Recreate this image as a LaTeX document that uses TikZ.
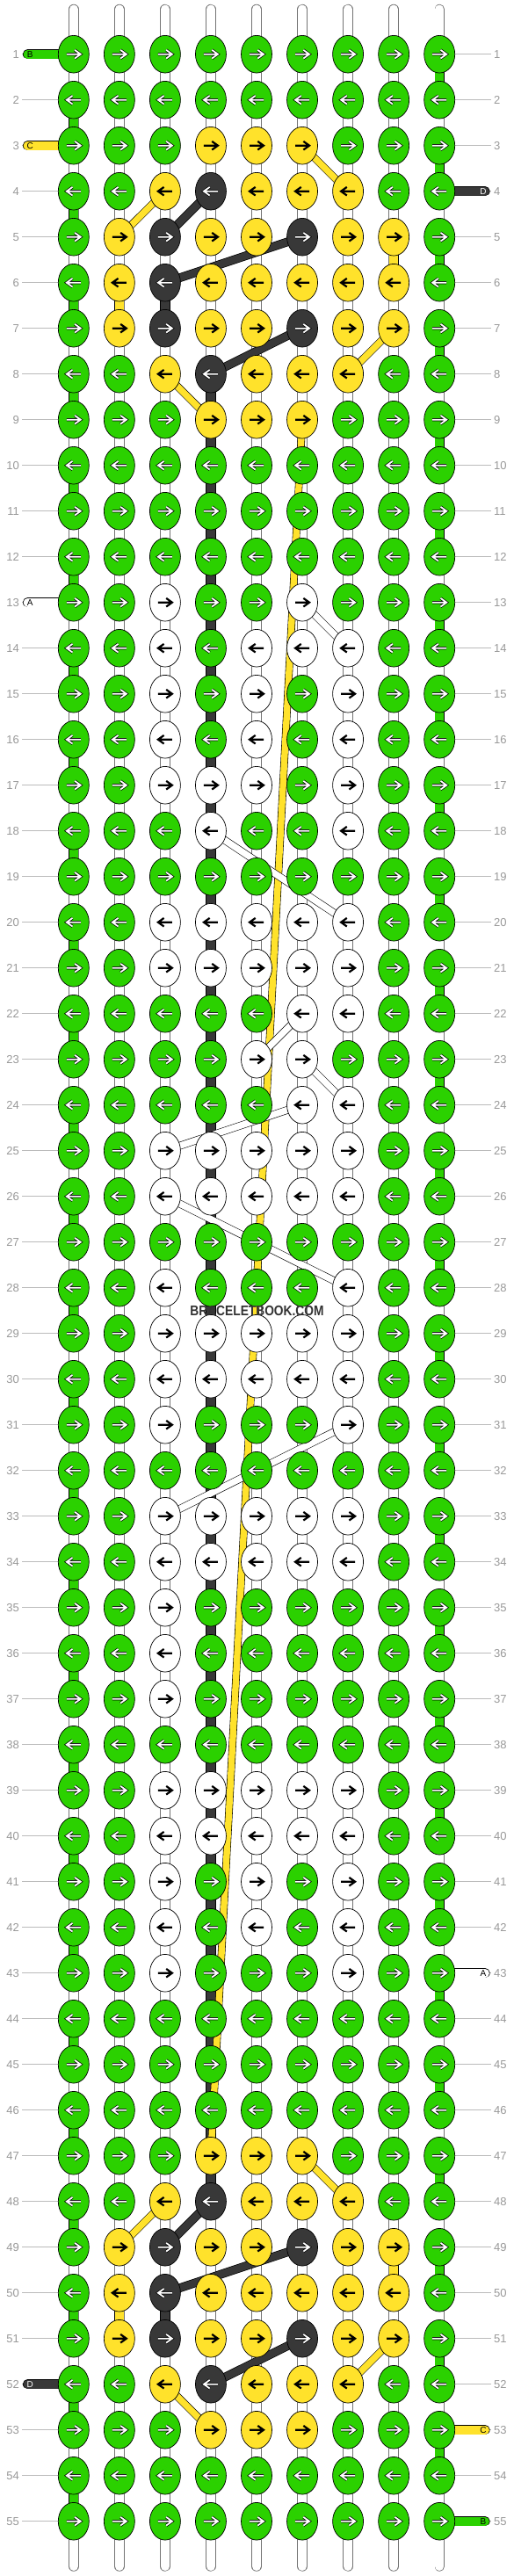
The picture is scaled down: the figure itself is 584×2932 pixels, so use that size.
\documentclass[tikz,border=0pt]{standalone}
\usepackage{fontspec}
\setmainfont{Liberation Sans}
\usetikzlibrary{shapes.geometric}

\definecolor{knotgreen}{HTML}{2BD100}
\definecolor{knotyellow}{HTML}{FFE22B}
\definecolor{knotdark}{HTML}{383838}
\definecolor{numgray}{HTML}{999999}
\definecolor{rulegray}{HTML}{BBBBBB}

\pgfdeclarelayer{strings}
\pgfsetlayers{strings,main}

\tikzset{
  knot/.style={ellipse, draw=black, line width=0.7pt, minimum width=35pt,
    minimum height=42.7pt, inner sep=0pt},
  knot-g/.style={knot, fill=knotgreen},
  knot-y/.style={knot, fill=knotyellow},
  knot-d/.style={knot, fill=knotdark},
  knot-w/.style={knot, fill=white},
  arr-g/.style={draw=white, line width=1.8pt, preaction={draw=black, line width=3.2pt}},
  arr-d/.style={arr-g},
  arr-y/.style={draw=black, line width=2.2pt},
  arr-w/.style={arr-y},
  thread/.style={draw=black, line width=0.7pt, double=#1, double distance=9.8pt},
  thin thread/.style={draw=black, line width=0.6pt, double=#1, double distance=7.4pt},
  basestring/.style={draw=black!55, line width=0.7pt, double=white,
    double distance=10pt, line cap=round},
  rowrule/.style={draw=rulegray, line width=0.8pt},
  rownum/.style={font=\fontsize{13}{13}\selectfont, text=numgray, inner sep=3pt},
  endtag/.style={font=\fontsize{10}{10}\selectfont, inner sep=0pt},
  watermark/.style={font=\bfseries\fontsize{16}{16}\selectfont, text=black!80}
}

\begin{document}
\begin{tikzpicture}[x=1pt, y=-1pt]
\useasboundingbox (0,0) rectangle (584,2932);
% knots, one row per line
\foreach \rr/\pat in {
  1/{g,g,g,g,g,g,g,g,g}, 2/{g,g,g,g,g,g,g,g,g}, 3/{g,g,g,y,y,y,g,g,g},
  4/{g,g,y,d,y,y,y,g,g}, 5/{g,y,d,y,y,d,y,y,g}, 6/{g,y,d,y,y,y,y,y,g},
  7/{g,y,d,y,y,d,y,y,g}, 8/{g,g,y,d,y,y,y,g,g}, 9/{g,g,g,y,y,y,g,g,g},
  10/{g,g,g,g,g,g,g,g,g}, 11/{g,g,g,g,g,g,g,g,g}, 12/{g,g,g,g,g,g,g,g,g},
  13/{g,g,w,g,g,w,g,g,g}, 14/{g,g,w,g,w,w,w,g,g}, 15/{g,g,w,g,w,g,w,g,g},
  16/{g,g,w,g,w,g,w,g,g}, 17/{g,g,w,w,w,g,w,g,g}, 18/{g,g,g,w,g,g,w,g,g},
  19/{g,g,g,g,g,g,g,g,g}, 20/{g,g,w,w,w,w,w,g,g}, 21/{g,g,w,w,w,w,w,g,g},
  22/{g,g,g,g,g,w,w,g,g}, 23/{g,g,g,g,w,w,g,g,g}, 24/{g,g,g,g,g,w,w,g,g},
  25/{g,g,w,w,w,w,w,g,g}, 26/{g,g,w,w,w,w,w,g,g}, 27/{g,g,g,g,g,g,g,g,g},
  28/{g,g,w,g,g,g,w,g,g}, 29/{g,g,w,w,w,w,w,g,g}, 30/{g,g,w,w,w,w,w,g,g},
  31/{g,g,w,g,g,g,w,g,g}, 32/{g,g,g,g,g,g,g,g,g}, 33/{g,g,w,w,w,w,w,g,g},
  34/{g,g,w,w,w,w,w,g,g}, 35/{g,g,w,g,g,g,g,g,g}, 36/{g,g,w,g,g,g,g,g,g},
  37/{g,g,w,g,g,g,g,g,g}, 38/{g,g,g,g,g,g,g,g,g}, 39/{g,g,w,w,w,w,w,g,g},
  40/{g,g,w,w,w,w,w,g,g}, 41/{g,g,w,g,w,g,w,g,g}, 42/{g,g,w,g,w,g,w,g,g},
  43/{g,g,w,g,g,g,w,g,g}, 44/{g,g,g,g,g,g,g,g,g}, 45/{g,g,g,g,g,g,g,g,g},
  46/{g,g,g,g,g,g,g,g,g}, 47/{g,g,g,y,y,y,g,g,g}, 48/{g,g,y,d,y,y,y,g,g},
  49/{g,y,d,y,y,d,y,y,g}, 50/{g,y,d,y,y,y,y,y,g}, 51/{g,y,d,y,y,d,y,y,g},
  52/{g,g,y,d,y,y,y,g,g}, 53/{g,g,g,y,y,y,g,g,g}, 54/{g,g,g,g,g,g,g,g,g},
  55/{g,g,g,g,g,g,g,g,g}}{
  \ifodd\rr\def\dir{1}\else\def\dir{-1}\fi
  \foreach \kk [count=\cc] in \pat {
    \node[knot-\kk] (k-\rr-\cc) at ({31.75+52.05*\cc},{9.7+52*\rr}) {};
    \draw[arr-\kk, shift={(k-\rr-\cc.center)}, xscale=\dir]
      (-8,0) -- (8,0) (1.3,-4.8) -- (8,0) -- (1.3,4.8);
  }
  \node[rownum, anchor=east] (l-\rr) at (25,{9.7+52*\rr}) {\rr};
  \node[rownum, anchor=west] (r-\rr) at (559,{9.7+52*\rr}) {\rr};
}
\node[watermark] (wm) at (292.5,1491.7) {\scalebox{0.86}[1]{BRACELETBOOK.COM}};

\begin{pgfonlayer}{strings}
\fill[white] (0,0) rectangle (584,2932);
\foreach \cc in {1,...,9}{
  \coordinate (top-\cc) at ({31.75+52.05*\cc},10.5);
  \coordinate (bot-\cc) at ({31.75+52.05*\cc},2921);
  \draw[basestring] (top-\cc) -- (bot-\cc);
}
\foreach \rr in {1,...,55}{
  \draw[rowrule] (l-\rr) -- (k-\rr-1);
  \draw[rowrule] (k-\rr-9) -- (r-\rr);
}
% working rows
\foreach \rr in {1,...,55}
  \foreach \cc [evaluate=\cc as \nn using int(\cc+1)] in {1,...,8}
    \draw[thread=knotgreen] (k-\rr-\cc.center) -- (k-\rr-\nn.center);
\foreach \rr/\aa/\bb in {13/1/5, 14/3/6, 15/3/6, 16/3/6, 17/3/6, 18/4/6,
  20/3/6, 21/3/6, 22/6/6, 23/5/5, 24/6/6, 25/3/6, 26/3/6, 28/3/6, 29/3/6,
  30/3/6, 31/3/6, 33/3/6, 34/3/6, 39/3/6, 40/3/6, 41/3/6, 42/3/6, 43/3/8}
  \foreach \cc [evaluate=\cc as \nn using int(\cc+1)] in {\aa,...,\bb}
    \draw[thread=white] (k-\rr-\cc.center) -- (k-\rr-\nn.center);
% turns at the edges
\foreach \rr [evaluate=\rr as \nn using int(\rr+1)] in {2,4,...,54}
  \draw[thread=knotgreen] (k-\rr-1.center) -- (k-\nn-1.center);
\foreach \rr [evaluate=\rr as \nn using int(\rr+1)] in {1,3,...,53}
  \draw[thread=knotgreen] (k-\rr-9.center) -- (k-\nn-9.center);
% loose ends
\foreach \rr/\cl in {1/knotgreen, 3/knotyellow, 13/white, 52/knotdark}{
  \coordinate (end-l-\rr) at (31.5,{9.7+52*\rr});
  \draw[thread=\cl, line cap=round] (end-l-\rr) -- (k-\rr-1.center);
}
\foreach \rr/\cl in {4/knotdark, 43/white, 53/knotyellow, 55/knotgreen}{
  \coordinate (end-r-\rr) at (552,{9.7+52*\rr});
  \draw[thread=\cl, line cap=round] (k-\rr-9.center) -- (end-r-\rr);
}
% carried strings
\draw[thread=knotdark] (k-8-4.center) -- (k-48-4.center);
\foreach \ra/\ca/\rb/\cb in {6/3/7/3, 50/3/51/3}
  \draw[thread=knotdark] (k-\ra-\ca.center) -- (k-\rb-\cb.center);
\foreach \ra/\ca/\rb/\cb in {5/8/6/8, 6/2/7/2, 49/8/50/8, 50/2/51/2}
  \draw[thread=knotyellow] (k-\ra-\ca.center) -- (k-\rb-\cb.center);
\draw[thin thread=knotyellow] (k-9-6.center) -- (k-47-4.center);
\foreach \ra/\ca/\rb/\cb in {4/4/5/3, 5/6/6/3, 7/6/8/4, 48/4/49/3, 49/6/50/3, 51/6/52/4}
  \draw[thread=knotdark, double distance=8.4pt] (k-\ra-\ca.center) -- (k-\rb-\cb.center);
\foreach \ra/\ca/\rb/\cb in {3/6/4/7, 4/3/5/2, 7/8/8/7, 8/3/9/4, 47/6/48/7, 48/3/49/2,
  51/8/52/7, 52/3/53/4}
  \draw[thin thread=knotyellow] (k-\ra-\ca.center) -- (k-\rb-\cb.center);
\foreach \ra/\ca/\rb/\cb in {13/6/14/7, 18/4/20/7, 22/6/23/5, 23/6/24/7, 24/6/25/3,
  26/3/28/7, 31/7/33/3}
  \draw[thin thread=white] (k-\ra-\ca.center) -- (k-\rb-\cb.center);
\end{pgfonlayer}

\node[endtag] (tag-l-1) at (34.3,61.7) {B};
\node[endtag] (tag-l-3) at (34.3,165.7) {C};
\node[endtag] (tag-l-13) at (34.3,685.7) {A};
\node[endtag, text=white] (tag-l-52) at (34.3,2713.7) {D};
\node[endtag, text=white] (tag-r-4) at (550,217.7) {D};
\node[endtag] (tag-r-43) at (550,2245.7) {A};
\node[endtag] (tag-r-53) at (550,2765.7) {C};
\node[endtag] (tag-r-55) at (550,2869.7) {B};
\end{tikzpicture}
\end{document}
